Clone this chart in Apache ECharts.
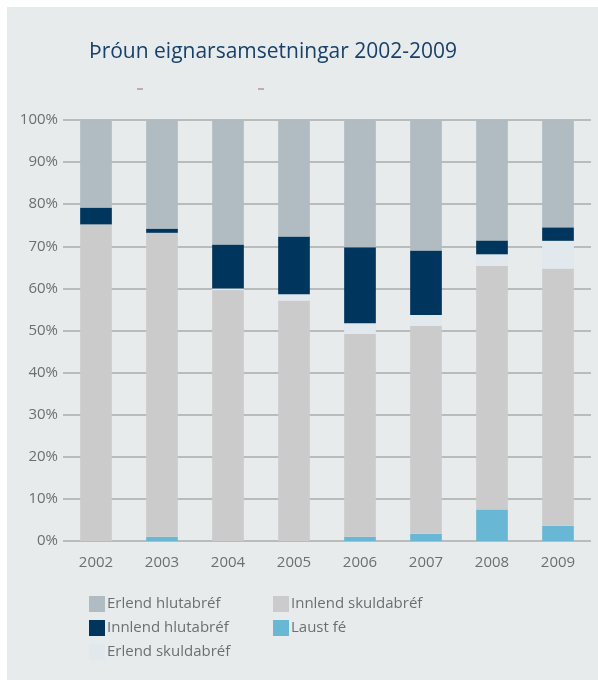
<!DOCTYPE html>
<html>
<head>
<meta charset="utf-8">
<script src="https://cdn.jsdelivr.net/npm/echarts@6/dist/echarts.min.js"></script>
<style>
  html, body { margin: 0; padding: 0; background: #fff; }
  #chart { width: 598px; height: 680px; }
</style>
</head>
<body>
<div id="chart"></div>
<script>
var years = ['2002', '2003', '2004', '2005', '2006', '2007', '2008', '2009'];
var yTicks = [0, 10, 20, 30, 40, 50, 60, 70, 80, 90, 100];
// stacked from the bottom up, % of total
var laustFe = [0, 1.0, 0, 0, 1.0, 1.7, 7.5, 3.6];
var innlendSkuldabref = [75.2, 72.2, 59.6, 57.1, 48.2, 49.4, 57.9, 61.1];
var erlendSkuldabref = [0, 0, 0.4, 1.5, 2.5, 2.6, 2.7, 6.6];
var innlendHlutabref = [4.0, 1.0, 10.4, 13.7, 18.1, 15.3, 3.3, 3.2];
var erlendHlutabref = [20.8, 25.8, 29.6, 27.7, 30.2, 31.0, 28.6, 25.5];

var font = 'Open Sans';
var chart = echarts.init(document.getElementById('chart'));

function bar(name, data, color) {
	return {
		name: name,
		type: 'bar',
		stack: 'total',
		barWidth: '48%',
		data: data,
		itemStyle: { color: color },
		emphasis: { disabled: true }
	};
}

var legendText = { fontFamily: font, fontSize: 15, color: '#6d6e70', padding: [0, 0, 0, -3] };

var option = {
	backgroundColor: '#ffffff',
	animation: false,
	graphic: [{
		type: 'rect',
		z: -10,
		shape: { x: 7, y: 7, width: 591, height: 673 },
		style: { fill: '#e8ebec' }
	}, {
		// two little red marks under the title
		type: 'line',
		shape: { x1: 137, y1: 89, x2: 143, y2: 89 },
		style: { stroke: '#b06070', lineWidth: 1 }
	}, {
		type: 'line',
		shape: { x1: 258, y1: 89, x2: 264, y2: 89 },
		style: { stroke: '#b06070', lineWidth: 1 }
	}],
	title: {
		text: 'Þróun eignarsamsetningar 2002-2009',
		left: 84,
		top: 37,
		textStyle: { fontFamily: font, fontSize: 21, fontWeight: 'normal', color: '#17416a' }
	},
	legend: [{
		data: ['Erlend hlutabréf', 'Innlend hlutabréf', 'Erlend skuldabréf'],
		orient: 'vertical',
		left: 84,
		top: 591,
		itemWidth: 16,
		itemHeight: 16,
		itemGap: 8,
		icon: 'rect',
		textStyle: legendText
	}, {
		data: ['Innlend skuldabréf', 'Laust fé'],
		orient: 'vertical',
		left: 268,
		top: 591,
		itemWidth: 16,
		itemHeight: 16,
		itemGap: 8,
		icon: 'rect',
		textStyle: legendText
	}],
	grid: {
		left: 63,
		right: 7,
		top: 120,
		bottom: 139
	},
	xAxis: {
		type: 'category',
		data: years,
		axisLine: { show: false },
		axisTick: { show: false },
		axisLabel: { fontFamily: font, fontSize: 15, color: '#6d6e70', margin: 14 }
	},
	yAxis: {
		type: 'value',
		min: yTicks[0],
		max: yTicks[yTicks.length - 1],
		interval: 10,
		axisLine: { show: false },
		axisTick: { show: false },
		axisLabel: { fontFamily: font, fontSize: 15, color: '#6d6e70', margin: 5, formatter: '{value}%' },
		splitLine: { lineStyle: { color: '#ababab', width: 1.5 } }
	},
	series: [
		bar('Laust fé', laustFe, '#68b8d5'),
		bar('Innlend skuldabréf', innlendSkuldabref, '#cbcbcb'),
		bar('Erlend skuldabréf', erlendSkuldabref, '#e1e9ef'),
		bar('Innlend hlutabréf', innlendHlutabref, '#00365d'),
		bar('Erlend hlutabréf', erlendHlutabref, '#b1bcc2')
	]
};
chart.setOption(option);
</script>
</body>
</html>
